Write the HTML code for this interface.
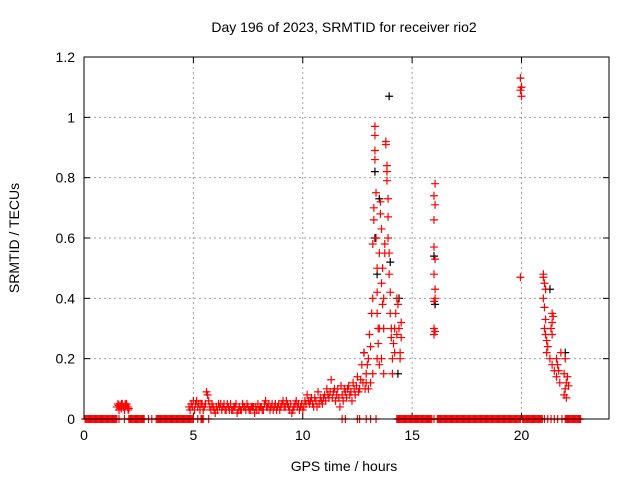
<!DOCTYPE html>
<html><head><meta charset="utf-8"><style>
html,body{margin:0;padding:0;background:#fff}
svg{display:block}
text{font-family:"Liberation Sans",sans-serif;font-size:14px;fill:#000}
</style></head><body>
<svg id="chart" width="640" height="480"></svg>
<script>
const xTicks=[0,5,10,15,20];
const yTicks=[0,0.2,0.4,0.6,0.8,1,1.2];
const yTickLabels=["0","0.2","0.4","0.6","0.8","1","1.2"];
const zeroTimes=[0.05,0.1,0.15,0.2,0.25,0.3,0.35,0.4,0.45,0.5,0.55,0.6,0.65,0.7,0.75,0.8,0.85,0.9,0.95,1.0,1.05,1.1,1.15,1.2,1.25,1.3,1.35,1.4,1.45,1.5,1.6,1.85,2.05,2.1,2.15,2.2,2.25,2.3,2.35,2.4,2.45,2.5,2.55,2.6,2.65,2.7,2.75,2.95,3.1,3.3,3.35,3.4,3.45,3.5,3.55,3.6,3.65,3.7,3.75,3.8,3.85,3.9,3.95,4.0,4.05,4.1,4.15,4.2,4.25,4.3,4.35,4.4,4.45,4.5,4.55,4.6,4.65,4.7,4.75,4.8,4.85,4.9,4.95,5.0,5.2,5.35,5.4,5.45,5.7,11.8,11.95,12.5,12.6,12.9,13.1,13.35,14.3,14.35,14.4,14.45,14.5,14.55,14.6,14.65,14.7,14.75,14.8,14.85,14.9,14.95,15.0,15.05,15.1,15.15,15.2,15.25,15.3,15.35,15.4,15.45,15.5,15.55,15.6,15.65,15.7,15.75,15.8,15.85,15.9,16.0,16.15,16.2,16.25,16.3,16.35,16.4,16.45,16.5,16.55,16.6,16.65,16.7,16.75,16.8,16.85,16.9,16.95,17.0,17.05,17.1,17.15,17.2,17.25,17.3,17.35,17.4,17.45,17.5,17.55,17.6,17.65,17.7,17.75,17.8,17.85,17.9,17.95,18.0,18.05,18.1,18.15,18.2,18.25,18.3,18.35,18.4,18.45,18.5,18.55,18.6,18.65,18.7,18.75,18.8,18.85,18.9,18.95,19.0,19.05,19.1,19.15,19.2,19.25,19.3,19.35,19.4,19.45,19.5,19.55,19.6,19.65,19.7,19.75,19.8,19.85,19.9,19.95,20.05,20.1,20.15,20.2,20.25,20.3,20.35,20.4,20.45,20.5,20.55,20.6,20.65,20.7,20.75,20.8,20.85,20.9,20.95,21.05,21.2,21.35,21.5,21.65,21.85,22.0,22.05,22.1,22.15,22.2,22.25,22.3,22.35,22.4,22.45,22.5,22.55,22.6,22.65,22.7];
const redPoints=[[1.5,0.04],[1.55,0.05],[1.6,0.03],[1.65,0.045],[1.7,0.035],[1.75,0.05],[1.8,0.04],[1.85,0.03],[1.9,0.045],[1.95,0.05],[2.0,0.04],[2.05,0.035],[1.58,0.045],[1.72,0.05],[1.88,0.05],[2.02,0.03],
[4.8,0.04],[4.9,0.05],[5.0,0.06],[5.05,0.03],[5.1,0.05],[5.2,0.04],[5.3,0.03],[5.4,0.05],[5.5,0.04],[5.6,0.09],[5.65,0.08],[5.7,0.06],[5.8,0.03],[5.9,0.04],[6.0,0.02],[6.1,0.03],[6.2,0.04],[6.3,0.03],[6.4,0.05],[6.5,0.03],[6.6,0.04],[6.7,0.05],[6.8,0.03],[6.9,0.04],[7.0,0.02],[7.1,0.04],[7.2,0.03],[7.3,0.04],[7.4,0.03],[7.5,0.04],[7.6,0.03],[7.7,0.04],[7.8,0.02],[7.9,0.03],[8.0,0.03],[8.1,0.04],[8.2,0.03],[8.3,0.06],[8.4,0.04],[8.5,0.03],[8.6,0.05],[8.7,0.04],[8.8,0.03],[8.9,0.05],[9.0,0.04],[9.1,0.06],[9.2,0.04],[9.3,0.05],[9.4,0.03],[9.5,0.02],[9.6,0.04],[9.7,0.06],[9.8,0.05],[9.9,0.04],[10.0,0.03],[10.1,0.06],[10.2,0.08],[10.3,0.05],[10.4,0.07],[10.5,0.04],[10.6,0.06],[10.7,0.09],[10.8,0.07],[10.9,0.05],[11.0,0.08],[11.1,0.1],[11.2,0.07],[11.3,0.13],[11.4,0.09],[11.5,0.06],[11.6,0.1],[11.7,0.04],[11.8,0.08],[11.9,0.1],[12.0,0.07],[12.1,0.11],[12.2,0.09],[12.3,0.12],[12.4,0.08],[12.5,0.14],[12.6,0.1],[12.7,0.18],[12.8,0.22],[12.9,0.15],
[5.15,0.06],[5.35,0.05],[5.75,0.04],[6.25,0.05],[6.75,0.03],[7.25,0.05],[7.75,0.04],[8.25,0.05],[8.75,0.05],[9.25,0.06],[9.75,0.04],[10.25,0.06],[10.75,0.05],[11.25,0.09],[11.75,0.11],[12.25,0.06],[12.75,0.12],
[4.85,0.03],[4.95,0.04],[5.25,0.05],[5.45,0.03],[5.55,0.05],[5.85,0.05],[5.95,0.03],[6.05,0.04],[6.15,0.05],[6.35,0.04],[6.45,0.03],[6.55,0.05],[6.65,0.03],[6.85,0.04],[6.95,0.05],[7.05,0.03],[7.15,0.03],[7.35,0.04],[7.45,0.05],[7.55,0.03],[7.65,0.04],[7.85,0.04],[7.95,0.05],[8.05,0.04],[8.15,0.03],[8.35,0.04],[8.45,0.05],[8.55,0.04],[8.65,0.03],[8.85,0.04],[8.95,0.03],[9.05,0.05],[9.15,0.04],[9.35,0.04],[9.45,0.05],[9.55,0.03],[9.65,0.05],[9.85,0.03],[9.95,0.05],[10.05,0.04],[10.15,0.05],[10.35,0.06],[10.45,0.05],[10.55,0.07],[10.65,0.04],[10.85,0.06],[10.95,0.07],[11.05,0.06],[11.15,0.08],[11.35,0.07],[11.45,0.1],[11.55,0.08],[11.65,0.07],[11.85,0.06],[11.95,0.09],[12.05,0.1],[12.15,0.08],[12.35,0.1],[12.45,0.11],[12.55,0.09],[12.65,0.13],[12.85,0.1],[12.95,0.18],
[13.0,0.2],[13.05,0.28],[13.1,0.24],[13.15,0.35],[13.2,0.4],[13.2,0.58],[13.25,0.7],[13.25,0.66],[13.3,0.97],[13.3,0.94],[13.3,0.89],[13.3,0.86],[13.35,0.75],[13.35,0.6],[13.4,0.5],[13.4,0.42],[13.4,0.35],[13.45,0.3],[13.45,0.25],[13.5,0.18],[13.5,0.55],[13.55,0.68],[13.55,0.72],[13.6,0.63],[13.6,0.45],[13.65,0.5],[13.65,0.38],[13.7,0.4],[13.7,0.3],[13.75,0.55],[13.75,0.58],[13.8,0.92],[13.8,0.91],[13.85,0.84],[13.85,0.82],[13.85,0.79],[13.9,0.73],[13.9,0.67],[13.9,0.6],[13.95,0.55],[13.95,0.48],[14.0,0.42],[14.0,0.35],[14.05,0.3],[14.05,0.27],[14.1,0.2],[14.1,0.15],[14.15,0.25],[14.2,0.22],[14.2,0.3],[14.25,0.35],[14.3,0.28],[14.3,0.4],[14.35,0.38],[14.4,0.3],[14.45,0.22],[14.45,0.2],[14.5,0.27],[14.5,0.32],[13.6,0.2],[13.7,0.15],[13.2,0.15],[13.1,0.12],[13.5,0.3],[12.9,0.12],[13.0,0.1],[13.4,0.2],
[16.05,0.78],[16.0,0.74],[16.05,0.71],[16.0,0.66],[16.0,0.57],[16.05,0.53],[16.0,0.48],[16.05,0.43],[16.05,0.4],[16.0,0.39],[16.0,0.3],[16.0,0.28],[16.05,0.29],
[19.95,1.13],[20.0,1.1],[19.95,1.09],[20.0,1.07],[19.95,0.47],
[21.0,0.48],[21.0,0.47],[21.05,0.45],[21.1,0.43],[21.0,0.4],[21.05,0.37],[21.1,0.33],[21.05,0.3],[21.1,0.28],[21.15,0.26],[21.2,0.24],[21.15,0.22],[21.4,0.35],[21.45,0.34],[21.4,0.32],[21.35,0.3],[21.4,0.28],[21.3,0.2],[21.4,0.18],[21.5,0.16],[21.6,0.2],[21.65,0.18],[21.7,0.16],[21.6,0.14],[21.75,0.12],[21.8,0.22],[22.0,0.2],[21.95,0.15],[22.05,0.12],[22.0,0.1],[21.95,0.08],[22.05,0.07],[22.1,0.14],[22.15,0.11]];
const blackPoints=[[13.3,0.6],[13.4,0.48],[13.5,0.73],[13.95,1.07],[14.0,0.52],[14.4,0.4],[16.0,0.54],[16.05,0.38],[20.0,1.1],[21.3,0.43],[22.0,0.22],[12.8,0.22],[13.3,0.82],[14.35,0.15]];

const NS='http://www.w3.org/2000/svg';
const svg=document.getElementById('chart');
const L=84,R=609,T=57,B=419,XMAX=24,YMAX=1.2;
const xs=t=>L+(t/XMAX)*(R-L);
const ys=v=>B-(v/YMAX)*(B-T);
function mk(tag,attrs,parent){const e=document.createElementNS(NS,tag);for(const k in attrs)e.setAttribute(k,attrs[k]);(parent||svg).appendChild(e);return e;}

const grid=mk('g',{});


xTicks.forEach((t,i)=>{
  if(t>0){mk('line',{x1:xs(t),x2:xs(t),y1:T,y2:B,stroke:'#a0a0a0','stroke-dasharray':'2,3'},grid);}
  mk('line',{x1:xs(t),x2:xs(t),y1:B,y2:B-6,stroke:'#000'});
  mk('line',{x1:xs(t),x2:xs(t),y1:T,y2:T+6,stroke:'#000'});
  const lb=mk('text',{x:xs(t),y:B+21,'text-anchor':'middle'});
  lb.textContent=String(t);
  
  
});
yTicks.forEach((v,i)=>{
  if(v>0&&v<YMAX){mk('line',{x1:L,x2:R,y1:ys(v),y2:ys(v),stroke:'#a0a0a0','stroke-dasharray':'2,3'},grid);}
  mk('line',{x1:L,x2:L+6,y1:ys(v),y2:ys(v),stroke:'#000'});
  mk('line',{x1:R,x2:R-6,y1:ys(v),y2:ys(v),stroke:'#000'});
  const lb=mk('text',{x:L-9,y:ys(v)+5,'text-anchor':'end'});
  lb.textContent=yTickLabels[i];
  
  
});

function plus(t,v,color,g){
  const x=xs(t),y=ys(v);
  const p=mk('path',{d:`M${x-4},${y}H${x+4}M${x},${y-4}V${y+4}`,stroke:color,'stroke-width':1.2,fill:'none'},g);
  
  
}
const gb=mk('g',{});


blackPoints.forEach(p=>plus(p[0],p[1],'#000',gb));
const gr=mk('g',{});


redPoints.forEach(p=>plus(p[0],p[1],'#ff0000',gr));
zeroTimes.forEach(t=>plus(t,0,'#ff0000',gr));

const frame=mk('rect',{x:L,y:T,width:R-L,height:B-T,fill:'none',stroke:'#000'});



const title=mk('text',{x:344,y:32,'text-anchor':'middle'});
title.textContent='Day 196 of 2023, SRMTID for receiver rio2';


const xl=mk('text',{x:344,y:471,'text-anchor':'middle'});
xl.textContent='GPS time / hours';


const yl=mk('text',{x:0,y:0,'text-anchor':'middle',transform:'translate(19,238) rotate(-90)'});
yl.textContent='SRMTID / TECUs';


</script>
</body></html>
